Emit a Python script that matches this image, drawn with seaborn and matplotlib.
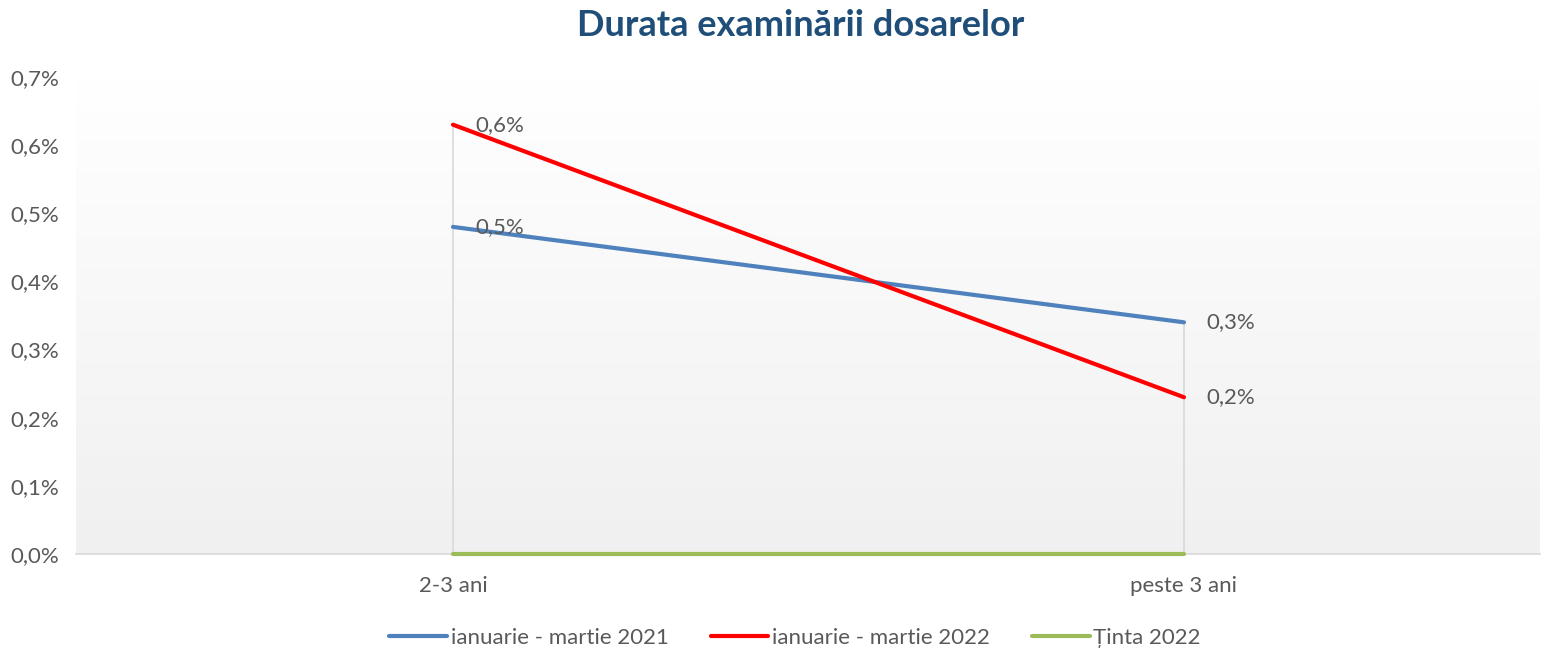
import numpy as np
import pandas as pd
import matplotlib
matplotlib.use("Agg")
import matplotlib.pyplot as plt
import seaborn as sns
from matplotlib.lines import Line2D

categories = ["2-3 ani", "peste 3 ani"]
series_names = ["ianuarie - martie 2021", "ianuarie - martie 2022", "Ținta 2022"]
values_2021 = [0.48, 0.34]
values_2022 = [0.63, 0.23]
values_tinta = [0.0, 0.0]
y_ticks = [0.0, 0.1, 0.2, 0.3, 0.4, 0.5, 0.6, 0.7]

colors = ["#4F81BD", "#FF0000", "#9BBB59"]

rows = []
for name, vals in zip(series_names, [values_2021, values_2022, values_tinta]):
    for i, (c, v) in enumerate(zip(categories, vals)):
        rows.append({"cat": c, "pos": i, "val": v, "series": name})
df = pd.DataFrame(rows)

sns.set_theme(style="white")
plt.rcParams['font.family'] = ['Lato', 'DejaVu Sans']

FS = 16
fig = plt.figure(figsize=(15.42, 6.51), dpi=100)
W, H = 1542, 651
left, right = 76 / W, 1540 / W
bottom, top = 1 - 554 / H, 1 - 77 / H
ax = fig.add_axes([left, bottom, right - left, top - bottom])

x0 = -(453 - 76) / 731
x1 = 1 + (1540 - 1184) / 731
ax.set_xlim(x0, x1)
ax.set_ylim(0, 0.7)

# gradient background
grad = np.linspace(1.0, 0.0, 256).reshape(-1, 1)
ax.imshow(grad, extent=[x0, x1, 0, 0.7], aspect="auto",
          cmap=matplotlib.colors.LinearSegmentedColormap.from_list("g", ["#F0F0F0", "#FFFFFF"]),
          origin="upper", zorder=0, vmin=0, vmax=1)
ax.set_xlim(x0, x1)
ax.set_ylim(0, 0.7)

# drop lines
allvals = np.array([values_2021, values_2022, values_tinta])
for i in range(len(categories)):
    ax.vlines(i, 0, allvals[:, i].max(), color="#D9D9D9", lw=1.2, zorder=1)

sns.lineplot(data=df, x="pos", y="val", hue="series", hue_order=series_names,
             palette=colors, linewidth=3, ax=ax, legend=False, zorder=3)
for l in ax.lines:
    l.set_solid_capstyle("round")
    l.set_clip_on(False)

# data labels
for vals in [values_2021, values_2022]:
    ax.text(0 + 0.03, vals[0], f"{vals[0]:.1f}%".replace(".", ","), fontsize=FS,
            color="#595959", va="center", ha="left", zorder=4)
    ax.text(1 + 0.03, vals[1], f"{vals[1]:.1f}%".replace(".", ","), fontsize=FS,
            color="#595959", va="center", ha="left", zorder=4)

ax.set_xticks(range(len(categories)))
ax.set_xticklabels(categories)
ax.set_yticks(y_ticks)
ax.set_yticklabels([f"{t:.1f}%".replace(".", ",") for t in y_ticks])
ax.tick_params(axis="both", length=0, labelsize=FS, labelcolor="#595959")
ax.tick_params(axis="x", pad=16)
ax.tick_params(axis="y", pad=12)
ax.set_xlabel("")
ax.set_ylabel("")
for s in ["top", "right", "left"]:
    ax.spines[s].set_visible(False)
ax.spines["bottom"].set_color("#D9D9D9")
ax.spines["bottom"].set_linewidth(1.2)
ax.spines["bottom"].set_zorder(2)
ax.grid(False)

fig.text(801 / W, 1 - 25 / H, "Durata examinării dosarelor", ha="center", va="center",
         fontsize=26, fontweight="bold", color="#1F4E79")

handles = [Line2D([0], [0], color=c, lw=3) for c in colors]
fig.legend(handles, series_names, loc="center", bbox_to_anchor=(795 / W, 1 - 638 / H),
           ncol=3, frameon=False, fontsize=FS, labelcolor="#595959",
           handlelength=2.6, handletextpad=0.15, columnspacing=1.9)

fig.savefig("out.png", dpi=100)
